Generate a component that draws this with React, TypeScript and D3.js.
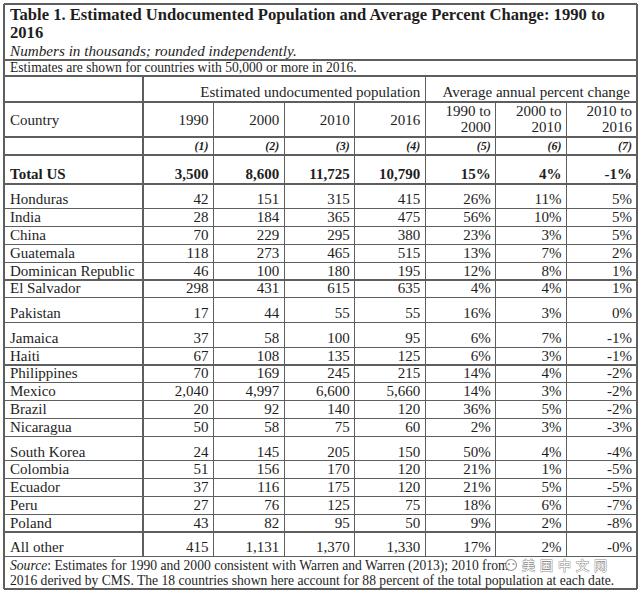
import React from "react";
import * as d3 from "d3";

const countries = ["Honduras","India","China","Guatemala","Dominican Republic","El Salvador","Pakistan","Jamaica","Haiti","Philippines","Mexico","Brazil","Nicaragua","South Korea","Colombia","Ecuador","Peru","Poland","All other"];
const v1990 = ["42","28","70","118","46","298","17","37","67","70","2,040","20","50","24","51","37","27","43","415"];
const v2000 = ["151","184","229","273","100","431","44","58","108","169","4,997","92","58","145","156","116","76","82","1,131"];
const v2010 = ["315","365","295","465","180","615","55","100","135","245","6,600","140","75","205","170","175","125","95","1,370"];
const v2016 = ["415","475","380","515","195","635","55","95","125","215","5,660","120","60","150","120","120","75","50","1,330"];
const pct9000 = ["26%","56%","23%","13%","12%","4%","16%","6%","6%","14%","14%","36%","2%","50%","21%","21%","18%","9%","17%"];
const pct0010 = ["11%","10%","3%","7%","8%","4%","3%","7%","3%","4%","3%","5%","3%","4%","1%","5%","6%","2%","2%"];
const pct1016 = ["5%","5%","5%","2%","1%","1%","0%","-1%","-1%","-2%","-2%","-2%","-3%","-4%","-5%","-5%","-7%","-8%","-0%"];
const totalUS = ["3,500","8,600","11,725","10,790","15%","4%","-1%"];
const yearHeaders = [["1990"],["2000"],["2010"],["2016"],["1990 to","2000"],["2000 to","2010"],["2010 to","2016"]];
const colNums = ["(1)","(2)","(3)","(4)","(5)","(6)","(7)"];
const tallRows = new Set(["Honduras","Pakistan","Jamaica","South Korea","All other"]);

const W = 640, H = 594;
const L = 4, R = 637;
const LINE = "#5e5e5e";
const TXT = "#1e1e1e";
const SERIF = "'Liberation Serif', 'Times New Roman', serif";

export default function App() {
  const x = d3.scaleLinear().domain([0, 7]).range([143, R]);
  const pad = 5;
  const rowTops: number[] = [];
  let y = 184;
  countries.forEach((c) => {
    rowTops.push(y);
    y += tallRows.has(c) ? 24.7 : 17.8;
  });
  const tableBottom = y;
  const rowBottoms = rowTops.map((t, i) => (i + 1 < rowTops.length ? rowTops[i + 1] : tableBottom));
  const cols = [v1990, v2000, v2010, v2016, pct9000, pct0010, pct1016];
  const hLines = [4, 60, 76, 102, 137, 155, 184, ...rowBottoms, 589];
  const fs = 15;
  return (
    <svg width={W} height={H} style={{ position: "absolute", left: 0, top: 0, background: "#fff" }}>
      <rect x={0} y={0} width={W} height={H} fill="#fff" />
      <g stroke={LINE} strokeWidth={1.2} shapeRendering="crispEdges">
        {hLines.map((hy, i) => (
          <line key={"h" + i} x1={L} x2={R} y1={hy} y2={hy} />
        ))}
        <line x1={L} x2={L} y1={4} y2={589} />
        <line x1={R} x2={R} y1={4} y2={589} />
        <line x1={x(0)} x2={x(0)} y1={76} y2={tableBottom} />
        <line x1={x(4)} x2={x(4)} y1={76} y2={tableBottom} />
        {[1, 2, 3, 5, 6].map((i) => (
          <line key={"v" + i} x1={x(i)} x2={x(i)} y1={102} y2={tableBottom} />
        ))}
      </g>
      <g fontFamily={SERIF} fill={TXT}>
        <text x={10} y={20} fontSize={16.6} fontWeight="bold">
          Table 1. Estimated Undocumented Population and Average Percent Change: 1990 to
        </text>
        <text x={10} y={38} fontSize={16.6} fontWeight="bold">2016</text>
        <text x={10} y={56} fontSize={15.2} fontStyle="italic">Numbers in thousands; rounded independently.</text>
        <text x={10} y={72} fontSize={13.6}>Estimates are shown for countries with 50,000 or more in 2016.</text>
        <text x={x(4) - pad} y={97} fontSize={fs} textAnchor="end">Estimated undocumented population</text>
        <text x={x(7) - pad - 2} y={97} fontSize={fs} textAnchor="end">Average annual percent change</text>
        <text x={10} y={125} fontSize={fs}>Country</text>
        {yearHeaders.map((lines, i) =>
          lines.length === 1 ? (
            <text key={"yh" + i} x={x(i + 1) - pad} y={125} fontSize={fs} textAnchor="end">{lines[0]}</text>
          ) : (
            <text key={"yh" + i} fontSize={fs} textAnchor="end">
              <tspan x={x(i + 1) - pad} y={116}>{lines[0]}</tspan>
              <tspan x={x(i + 1) - pad} y={132}>{lines[1]}</tspan>
            </text>
          )
        )}
        {colNums.map((t, i) => (
          <text key={"cn" + i} x={x(i + 1) - pad} y={150} fontSize={12} fontWeight="bold" fontStyle="italic" textAnchor="end">{t}</text>
        ))}
        <text x={10} y={179} fontSize={fs} fontWeight="bold">Total US</text>
        {totalUS.map((t, i) => (
          <text key={"tu" + i} x={x(i + 1) - pad} y={179} fontSize={fs} fontWeight="bold" textAnchor="end">{t}</text>
        ))}
        {countries.map((c, r) => {
          const by = rowBottoms[r] - 4.3;
          return (
            <g key={"r" + r}>
              <text x={10} y={by} fontSize={fs}>{c}</text>
              {cols.map((col, i) => (
                <text key={i} x={x(i + 1) - pad} y={by} fontSize={fs} textAnchor="end">{col[r]}</text>
              ))}
            </g>
          );
        })}
        <text x={10} y={570} fontSize={13.6}>
          <tspan fontStyle="italic">Source</tspan>: Estimates for 1990 and 2000 consistent with Warren and Warren (2013); 2010 from
        </text>
        <text x={10} y={584.5} fontSize={13.6}>
          2016 derived by CMS. The 18 countries shown here account for 88 percent of the total population at each date.
        </text>
      </g>
      <g opacity={0.85}>
        <circle cx={511} cy={565} r={5.5} fill="#fff" stroke="#888" strokeWidth={1.2} />
        <circle cx={509} cy={564} r={1.1} fill="#888" />
        <circle cx={513.5} cy={564} r={1.1} fill="#888" />
        <text x={522} y={569.5} fontSize={13} letterSpacing={5} fontFamily="'Noto Sans CJK SC', sans-serif" fill="#fff" stroke="#777" strokeWidth={1} paintOrder="stroke">美国中文网</text>
      </g>
    </svg>
  );
}
